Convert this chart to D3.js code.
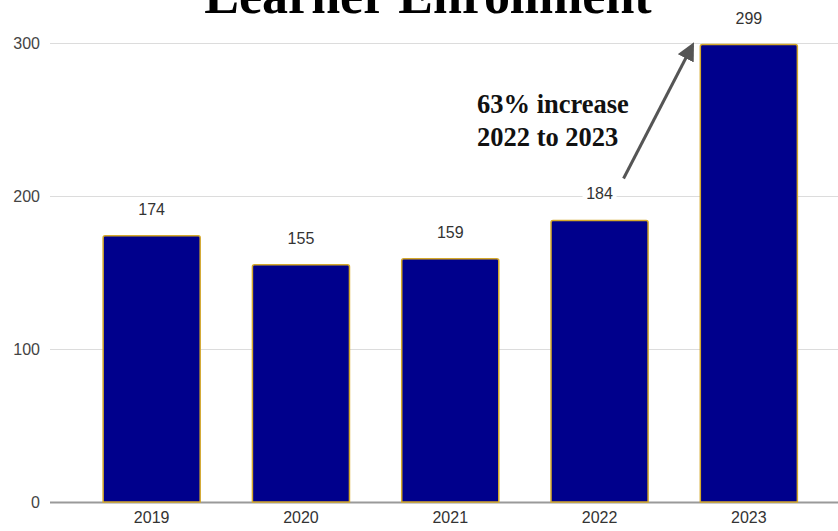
<!DOCTYPE html>
<html>
<head>
<meta charset="utf-8">
<script src="https://cdn.jsdelivr.net/npm/d3@7"></script>
<style>
  html, body { margin: 0; padding: 0; background: #fff; }
  svg { display: block; }
</style>
</head>
<body>
<svg id="chart" width="838" height="531"></svg>
<script>
// Learner enrollment by year
const years = ["2019", "2020", "2021", "2022", "2023"];
const enrollment = [174, 155, 159, 184, 299];
const yTicks = [0, 100, 200, 300];
const titleText = "Learner Enrollment";
const noteLines = ["63% increase", "2022 to 2023"];

const W = 838, H = 531;
const svg = d3.select("#chart");

const x = d3.scaleBand()
  .domain(years)
  .range([77, 823.5])
  .paddingInner(0.35)
  .paddingOuter(0.175);

const y = d3.scaleLinear()
  .domain([0, 300])
  .range([502, 43]);

// Title (partly off the top edge)
svg.append("text")
  .attr("x", 428)
  .attr("y", 13)
  .attr("text-anchor", "middle")
  .attr("font-family", "'Liberation Serif', 'Times New Roman', serif")
  .attr("font-weight", "bold")
  .attr("font-size", 52)
  .attr("fill", "#000")
  .text(titleText);

// Gridlines and y labels
const yAxis = d3.axisLeft(y)
  .tickValues(yTicks)
  .tickSize(-(W - 50))
  .tickPadding(10)
  .tickFormat(d3.format("d"));

const gy = svg.append("g")
  .attr("transform", "translate(50,0)")
  .call(yAxis);
gy.select(".domain").remove();
gy.selectAll(".tick line")
  .attr("stroke", d => d === 0 ? "#9a9a9a" : "#dcdcdc")
  .attr("stroke-width", d => d === 0 ? 2 : 1);
gy.selectAll(".tick text")
  .attr("x", -10)
  .attr("font-family", "'Liberation Sans', Arial, sans-serif")
  .attr("font-size", 16)
  .attr("fill", "#444");

// Bars with slightly rounded tops
const r = 2;
function barPath(d, i) {
  const x0 = x(years[i]), w = x.bandwidth();
  const yt = y(d), yb = y(0);
  return `M${x0},${yb} V${yt + r} Q${x0},${yt} ${x0 + r},${yt} H${x0 + w - r} Q${x0 + w},${yt} ${x0 + w},${yt + r} V${yb} Z`;
}

svg.append("g")
  .selectAll("path")
  .data(enrollment)
  .join("path")
  .attr("d", barPath)
  .attr("fill", "#00008c")
  .attr("stroke", "#d4a82a")
  .attr("stroke-width", 1.5);

// Value labels
const labels = svg.append("g")
  .selectAll("g")
  .data(enrollment)
  .join("g")
  .attr("transform", (d, i) => `translate(${x(years[i]) + x.bandwidth() / 2},${y(d) - 21})`);

labels.append("rect")
  .attr("x", -17).attr("y", -14)
  .attr("width", 34).attr("height", 18)
  .attr("fill", "#fff");

labels.append("text")
  .attr("text-anchor", "middle")
  .attr("font-family", "'Liberation Sans', Arial, sans-serif")
  .attr("font-size", 16)
  .attr("fill", "#333")
  .text(d => d);

// X axis labels
const gx = svg.append("g")
  .attr("transform", "translate(0,502)")
  .call(d3.axisBottom(x).tickSize(0).tickPadding(10));
gx.select(".domain").remove();
gx.selectAll(".tick text")
  .attr("font-family", "'Liberation Sans', Arial, sans-serif")
  .attr("font-size", 16)
  .attr("fill", "#333");

// Annotation arrow from 2022 label toward the 2023 bar
const defs = svg.append("defs");
defs.append("marker")
  .attr("id", "arrowhead")
  .attr("viewBox", "0 0 10 10")
  .attr("refX", 8).attr("refY", 5)
  .attr("markerWidth", 6).attr("markerHeight", 6)
  .attr("markerUnits", "strokeWidth")
  .attr("orient", "auto")
  .append("path")
  .attr("d", "M0,0 L10,5 L0,10 Z")
  .attr("fill", "#555");

const i22 = years.indexOf("2022"), i23 = years.indexOf("2023");
const ax0 = x(years[i22]) + x.bandwidth() / 2 + 24;
const ay0 = y(enrollment[i22]) - 42;
const ax1 = x(years[i23]) - 8;
const ay1 = y(enrollment[i23]) + 1;

svg.append("line")
  .attr("x1", ax0).attr("y1", ay0)
  .attr("x2", ax1).attr("y2", ay1)
  .attr("stroke", "#555")
  .attr("stroke-width", 3)
  .attr("marker-end", "url(#arrowhead)");

const note = svg.append("text")
  .attr("font-family", "'Liberation Serif', 'Times New Roman', serif")
  .attr("font-weight", "bold")
  .attr("font-size", 26.5)
  .attr("fill", "#111");
noteLines.forEach((t, k) => {
  note.append("tspan")
    .attr("x", 477)
    .attr("y", 112.5 + k * 33.5)
    .text(t);
});
</script>
</body>
</html>
